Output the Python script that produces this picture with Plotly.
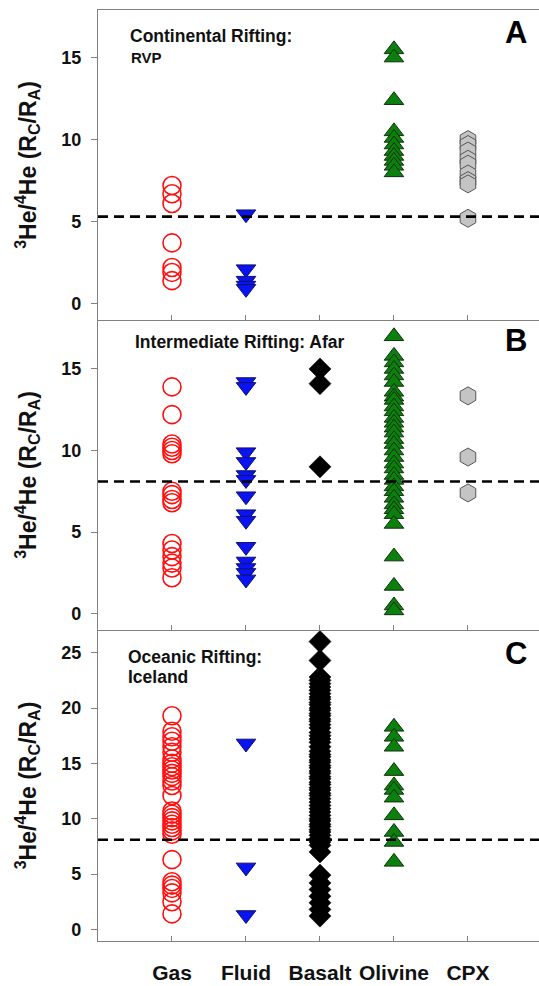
import plotly.graph_objects as go

# ---- categories on the x axis ----
categories = ["Gas", "Fluid", "Basalt", "Olivine", "CPX"]
cat_pos = [1, 2, 3, 4, 5]

# ---- 3He/4He (Rc/Ra) values, panel A: Continental Rifting (RVP) ----
gas_A = [7.2, 6.7, 6.1, 3.7, 2.2, 1.9, 1.4]
fluid_A = [5.45, 2.1, 1.4, 1.1, 0.9]
basalt_A = []
olivine_A = [15.5, 15.0, 12.4, 10.5, 10.1, 9.7, 9.3, 9.0, 8.7, 8.4, 8.0]
cpx_A = [10.0, 9.7, 9.3, 8.8, 8.5, 7.9, 7.5, 7.3, 5.2]

# ---- panel B: Intermediate Rifting (Afar) ----
gas_B = [13.9, 12.2, 10.4, 10.2, 10.0, 9.8, 7.5, 7.3, 7.0, 6.8,
         4.3, 3.9, 3.5, 3.1, 2.8, 2.2]
fluid_B = [14.2, 13.9, 9.9, 9.3, 8.5, 8.2, 7.2, 6.1, 5.7, 4.1, 3.2, 2.8, 2.5, 2.1]
basalt_B = [15.0, 14.1, 9.0]
olivine_B = [17.0, 15.8, 15.4, 15.0, 14.6, 14.2, 13.6, 13.3, 13.1, 12.7, 12.4,
             12.0, 11.7, 11.4, 11.1, 10.7, 10.4, 10.0, 9.6, 9.2, 8.9, 8.5, 8.2,
             7.8, 7.5, 7.1, 6.7, 6.4, 6.1, 5.5, 3.5, 1.7, 0.5, 0.2]
cpx_B = [13.35, 9.6, 7.4]

# ---- panel C: Oceanic Rifting (Iceland) ----
gas_C = [19.3, 17.9, 17.4, 17.0, 16.5, 16.0, 15.4, 15.0, 14.7, 14.4, 14.1, 13.8,
         13.4, 13.0, 12.1, 10.7, 10.4, 10.1, 9.8, 9.5, 9.2, 8.9, 8.6, 6.3,
         4.3, 4.0, 3.7, 3.3, 2.5, 1.4]
fluid_C = [16.8, 5.6, 1.3]
basalt_C = [26.0, 24.3, 22.8, 22.5, 22.2, 21.9, 21.6, 21.3, 21.0, 20.8, 20.5,
            20.3, 20.0, 19.8, 19.5, 19.3, 19.0, 18.8, 18.5, 18.2, 17.8, 17.5,
            17.2, 16.9, 16.5, 16.1, 15.8, 15.6, 15.3, 15.1, 14.8, 14.6, 14.3,
            14.1, 13.8, 13.6, 13.3, 13.1, 12.8, 12.6, 12.3, 12.1, 11.8, 11.5,
            11.2, 10.9, 10.6, 10.3, 10.0, 9.8, 9.5, 9.3, 9.0, 8.8, 8.5, 8.2,
            7.9, 7.6, 7.0, 4.9, 4.2, 3.6, 3.0, 2.4, 1.8, 1.2]
olivine_C = [18.3, 17.4, 16.5, 14.3, 13.0, 12.6, 11.9, 10.3, 8.8, 7.9, 6.1]
cpx_C = []

# MORB-type reference ratio drawn as the dashed line in each panel
ref_line = [5.3, 8.1, 8.1]

panel_letters = ["A", "B", "C"]

FONT = "Liberation Sans, Arial, sans-serif"
AXIS_GREY = "#808080"

# marker style per material
styles = {
    "Gas": dict(symbol="circle-open", size=18, color="#ff1010",
                line=dict(color="#ff1010", width=1.6)),
    "Fluid": dict(symbol="triangle-down", size=17, color="#0a14f0",
                  line=dict(color="#10106a", width=1)),
    "Basalt": dict(symbol="diamond", size=17, color="#000000",
                   line=dict(color="#000000", width=0.5)),
    "Olivine": dict(symbol="triangle-up", size=17, color="#0c800c",
                    line=dict(color="#103010", width=1)),
    "CPX": dict(symbol="hexagon", size=18, color="#c4c4c4",
                line=dict(color="#555555", width=1)),
}

panels = [
    dict(x="x3", y="y3", data=[gas_A, fluid_A, basalt_A, olivine_A, cpx_A]),
    dict(x="x2", y="y2", data=[gas_B, fluid_B, basalt_B, olivine_B, cpx_B]),
    dict(x="x", y="y", data=[gas_C, fluid_C, basalt_C, olivine_C, cpx_C]),
]

fig = go.Figure()
for p in panels:
    for cat, pos, vals in zip(categories, cat_pos, p["data"]):
        if not vals:
            continue
        fig.add_trace(go.Scatter(
            x=[pos] * len(vals), y=vals, mode="markers",
            marker=styles[cat], xaxis=p["x"], yaxis=p["y"],
            showlegend=False, hoverinfo="skip",
        ))

# reference dashed lines
for p, val in zip(panels, ref_line):
    fig.add_shape(type="line", xref=f"{p['x']} domain", yref=p["y"],
                  x0=0, x1=1, y0=val, y1=val,
                  line=dict(color="black", width=2.6, dash="10px,6px"),
                  layer="above")

# plot area: 98..539 px wide, 10..941 px tall; three panels stacked
H = 931.0
dom_C = [0, 311 / H]
dom_B = [311 / H, 621 / H]
dom_A = [621 / H, 1]

ytitle = "<b><sup>3</sup>He/<sup>4</sup>He (R<sub>C</sub>/R<sub>A</sub>)</b>"

def xaxis_cfg(anchor, show_labels, top_line):
    cfg = dict(
        range=[0, 5.96], domain=[0, 1], anchor=anchor,
        showline=True, linecolor=AXIS_GREY, linewidth=1.3, mirror=top_line,
        ticks="inside", ticklen=5, tickwidth=1, tickcolor=AXIS_GREY,
        tickvals=cat_pos, showgrid=False, zeroline=False,
    )
    if show_labels:
        cfg.update(ticktext=[f"<b>{c}</b>" for c in categories],
                   tickfont=dict(family=FONT, size=21, color="#111111"),
                   ticklabelstandoff=13)
    else:
        cfg.update(showticklabels=False)
    return cfg

def yaxis_cfg(anchor, domain, rng, dtick):
    return dict(
        range=rng, domain=domain, anchor=anchor,
        showline=True, linecolor=AXIS_GREY, linewidth=1.3,
        ticks="outside", ticklen=6, tickwidth=1, tickcolor=AXIS_GREY,
        dtick=dtick, tick0=0, showgrid=False, zeroline=False,
        tickfont=dict(family=FONT, size=18, color="#111111", weight="bold"),
        ticklabelstandoff=6,
        title=dict(text=ytitle, font=dict(family=FONT, size=23, color="#111111"),
                   standoff=18),
    )

fig.update_layout(
    width=539, height=986,
    margin=dict(l=98, r=0, t=10, b=45),
    paper_bgcolor="white", plot_bgcolor="white",
    xaxis=xaxis_cfg("y", True, False),
    xaxis2=xaxis_cfg("y2", False, False),
    xaxis3=xaxis_cfg("y3", False, True),
    yaxis=yaxis_cfg("x", dom_C, [-1.05, 27.05], 5),
    yaxis2=yaxis_cfg("x2", dom_B, [-1.0, 18.0], 5),
    yaxis3=yaxis_cfg("x3", dom_A, [-1.0, 17.9], 5),
)

def px_x(px):
    return (px - 98) / 441.0

def px_y(py):
    return (941 - py) / H

labels = [
    ("<b>Continental Rifting:</b>", 128, 35.7, 17.5),
    ("<b>RVP</b>", 129, 57.7, 15),
    ("<b>Intermediate Rifting: Afar</b>", 133, 341.7, 17.5),
    ("<b>Oceanic Rifting:</b>", 126, 656.7, 17.5),
    ("<b>Iceland</b>", 126, 676.7, 17.5),
]
for text, lx, ly, size in labels:
    fig.add_annotation(text=text, xref="paper", yref="paper",
                       x=px_x(lx), y=px_y(ly), xanchor="left", yanchor="middle",
                       showarrow=False,
                       font=dict(family=FONT, size=size, color="#111111"))

for letter, ly in zip(panel_letters, [32.5, 340, 653]):
    fig.add_annotation(text=f"<b>{letter}</b>", xref="paper", yref="paper",
                       x=px_x(516), y=px_y(ly), xanchor="center", yanchor="middle",
                       showarrow=False,
                       font=dict(family=FONT, size=31, color="#000000"))

fig.write_html("out.html")
